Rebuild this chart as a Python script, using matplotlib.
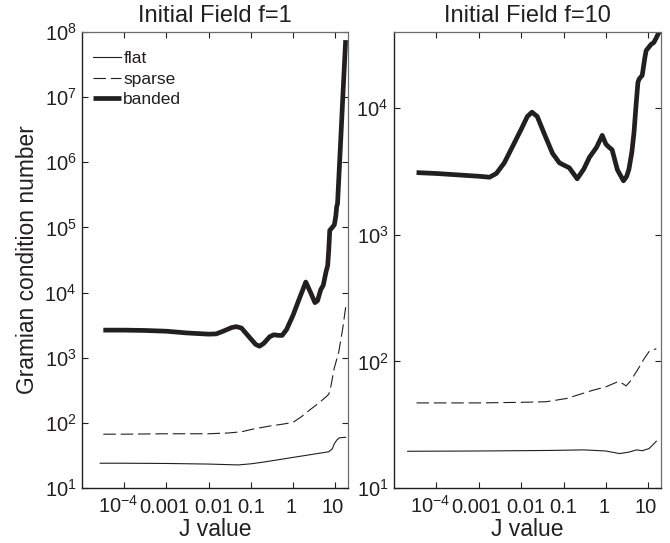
"""Gramian condition number vs J value, two initial fields (f=1, f=10)."""

import math

import matplotlib
matplotlib.use("Agg")
import matplotlib.pyplot as plt
import matplotlib.ticker as ticker
import matplotlib.transforms as mtransforms

# ---------------------------------------------------------------------------
# Data
# ---------------------------------------------------------------------------

# Initial field f=1
f1_flat_j = [2.7e-5, 1e-4, 1e-3, 0.01, 0.05, 0.1, 0.2, 1.0, 3.0, 7.0, 8.5, 9.5, 11, 12.5, 17.6]
f1_flat = [24, 24, 23.8, 23.3, 22.6, 23.5, 25, 29.5, 33, 36, 40, 48, 55, 59, 60]

f1_sparse_j = [3.2e-5, 1e-4, 1e-3, 0.01, 0.03, 0.06, 0.11, 0.3, 0.6, 1.0, 1.6, 2.4, 4.0,
               6.0, 7.0, 7.7, 9.5, 12, 15, 17.6]
f1_sparse = [67, 67, 68, 68, 70, 73, 80, 90, 96, 102, 125, 155, 200,
             250, 275, 340, 700, 1200, 2800, 6000]

f1_banded_j = [3.2e-5, 1e-4, 3e-4, 1e-3, 3e-3, 0.01, 0.015, 0.022, 0.035, 0.045, 0.06,
               0.09, 0.13, 0.16, 0.2, 0.28, 0.35, 0.45, 0.55, 0.7, 1.0, 1.4, 2.0, 2.6,
               3.3, 3.8, 4.5, 5.2, 6.0, 6.6, 7.0, 7.4, 8.5, 9.5, 10.3, 10.8, 11.3, 12.0,
               13.5, 15.5, 17.6]
f1_banded = [2650, 2650, 2620, 2550, 2400, 2300, 2320, 2550, 2900, 3000, 2850,
             2100, 1600, 1500, 1650, 2100, 2250, 2200, 2200, 2700, 4500, 8000, 14500, 10000,
             7000, 7500, 11000, 13000, 20500, 26000, 45000, 90000, 100000, 110000, 150000,
             210000, 230000, 500000, 2.3e6, 1.45e7, 7.5e7]

# Initial field f=10
f10_flat_j = [2.1e-5, 1e-3, 0.05, 0.3, 1.0, 2.1, 3.5, 5.3, 7.2, 10.5, 15.5]
f10_flat = [19.5, 19.6, 19.8, 20.0, 19.6, 18.7, 19.2, 20.0, 19.7, 20.5, 23.4]

f10_sparse_j = [3.4e-5, 1e-3, 0.01, 0.039, 0.12, 0.48, 1.0, 1.9, 2.3, 3.0, 3.8, 5.5, 8.0, 10.5, 15.5]
f10_sparse = [47, 47, 47.5, 48, 51, 59, 63, 69, 68, 64, 70, 85, 105, 120, 126]

f10_banded_j = [3.4e-5, 1e-4, 1e-3, 0.0018, 0.0026, 0.004, 0.0062, 0.01, 0.014, 0.018,
                0.024, 0.035, 0.055, 0.08, 0.137, 0.21, 0.3, 0.41, 0.6, 0.82, 1.0, 1.2,
                1.4, 1.87, 2.6, 3.1, 3.5, 4.1, 4.6, 5.2, 5.7, 6.1, 7.2, 8.3, 8.9, 11.7,
                13.5, 15.5, 18]
f10_banded = [3100, 3050, 2900, 2850, 3050, 3700, 4950, 6800, 8600, 9300,
              8600, 6300, 4400, 3700, 3380, 2770, 3300, 4100, 4900, 6100, 5200, 4900,
              4700, 3260, 2670, 2900, 3300, 4500, 6400, 11000, 16000, 17000, 18200, 25000,
              28500, 32000, 33000, 36000, 40000]

titles = ["Initial Field f=1", "Initial Field f=10"]
series_labels = ["flat", "sparse", "banded"]

x_ticks = [1e-4, 1e-3, 1e-2, 1e-1, 1, 10]
x_tick_labels = [r"10$^{\mathregular{-4}}$", "0.001", "0.01", "0.1", "1", "10"]

y_ticks_f1 = [1e1, 1e2, 1e3, 1e4, 1e5, 1e6, 1e7, 1e8]
y_ticks_f10 = [1e1, 1e2, 1e3, 1e4]


# ---------------------------------------------------------------------------
# Plot
# ---------------------------------------------------------------------------

INK = "#231f20"
# small horizontal nudges (px) of the x tick labels, as laid out in the original
X_LABEL_NUDGE = [-6, -2, 5, 0, -2, -3]

plt.rcParams["font.family"] = ["Liberation Sans", "DejaVu Sans"]
plt.rcParams["mathtext.fontset"] = "custom"
plt.rcParams["mathtext.rm"] = "Liberation Sans"
plt.rcParams["mathtext.it"] = "Liberation Sans:italic"
plt.rcParams["lines.scale_dashes"] = False


def y_label(v):
    return r"10$^{\mathregular{%d}}$" % round(math.log10(v))


def style_axes(ax, yticks, ylim):
    ax.set_xscale("log")
    ax.set_yscale("log")
    ax.set_xlim(1e-5, 20)
    ax.set_ylim(*ylim)
    ax.xaxis.set_major_locator(ticker.FixedLocator(x_ticks))
    ax.xaxis.set_major_formatter(ticker.FixedFormatter(x_tick_labels))
    ax.xaxis.set_minor_locator(ticker.NullLocator())
    ax.yaxis.set_major_locator(ticker.FixedLocator(yticks))
    ax.yaxis.set_major_formatter(ticker.FixedFormatter([y_label(v) for v in yticks]))
    ax.yaxis.set_minor_locator(ticker.NullLocator())
    ax.tick_params(direction="in", length=4, width=0.8, top=True, right=True,
                   labelsize=14.5, colors=INK)
    ax.tick_params(axis="y", pad=4)
    ax.tick_params(axis="x", pad=18)
    # keep the "10" of 10^-4 on the same baseline as the other labels
    for lab, dx in zip(ax.get_xticklabels(), X_LABEL_NUDGE):
        lab.set_verticalalignment("baseline")
        shift = mtransforms.ScaledTranslation(dx / 100.0, 0, fig.dpi_scale_trans)
        lab.set_transform(lab.get_transform() + shift)
    for side in ["left", "bottom"]:
        ax.spines[side].set_color(INK)
        ax.spines[side].set_linewidth(1.0)
    for side in ["top", "right"]:
        ax.spines[side].set_color("#6d6d6d")
        ax.spines[side].set_linewidth(0.9)
    ax.set_xlabel("J value", fontsize=16.5, color=INK, labelpad=0.5)


fig = plt.figure(figsize=(6.7, 5.43), dpi=100)
ax1 = fig.add_axes([0.1224, 0.1013, 0.3970, 0.8398])
ax2 = fig.add_axes([0.5881, 0.1013, 0.3985, 0.8398])

panels = [
    (ax1, f1_flat_j, f1_flat, f1_sparse_j, f1_sparse, f1_banded_j, f1_banded,
     y_ticks_f1, (10, 1e8)),
    (ax2, f10_flat_j, f10_flat, f10_sparse_j, f10_sparse, f10_banded_j, f10_banded,
     y_ticks_f10, (10, 4e4)),
]

for i, (ax, fj, fv, sj, sv, bj, bv, yt, yl) in enumerate(panels):
    ax.plot(fj, fv, color=INK, linewidth=0.8, label=series_labels[0])
    ax.plot(sj, sv, color=INK, linewidth=0.8, dashes=(9, 3.5), label=series_labels[1])
    ax.plot(bj, bv, color=INK, linewidth=3.4, solid_capstyle="butt",
            solid_joinstyle="round", label=series_labels[2])
    style_axes(ax, yt, yl)
    ax.set_title(titles[i], fontsize=17, color=INK, pad=7)

ax1.set_ylabel("Gramian condition number", fontsize=16.4, color=INK, labelpad=4)
ax1.legend(loc="upper left", bbox_to_anchor=(0.041, 0.958), frameon=False,
           fontsize=12.5, handlelength=1.6, handletextpad=0.15, labelspacing=0.3,
           borderpad=0, borderaxespad=0, labelcolor=INK)

plt.savefig("out.png", dpi=100)
plt.close()
